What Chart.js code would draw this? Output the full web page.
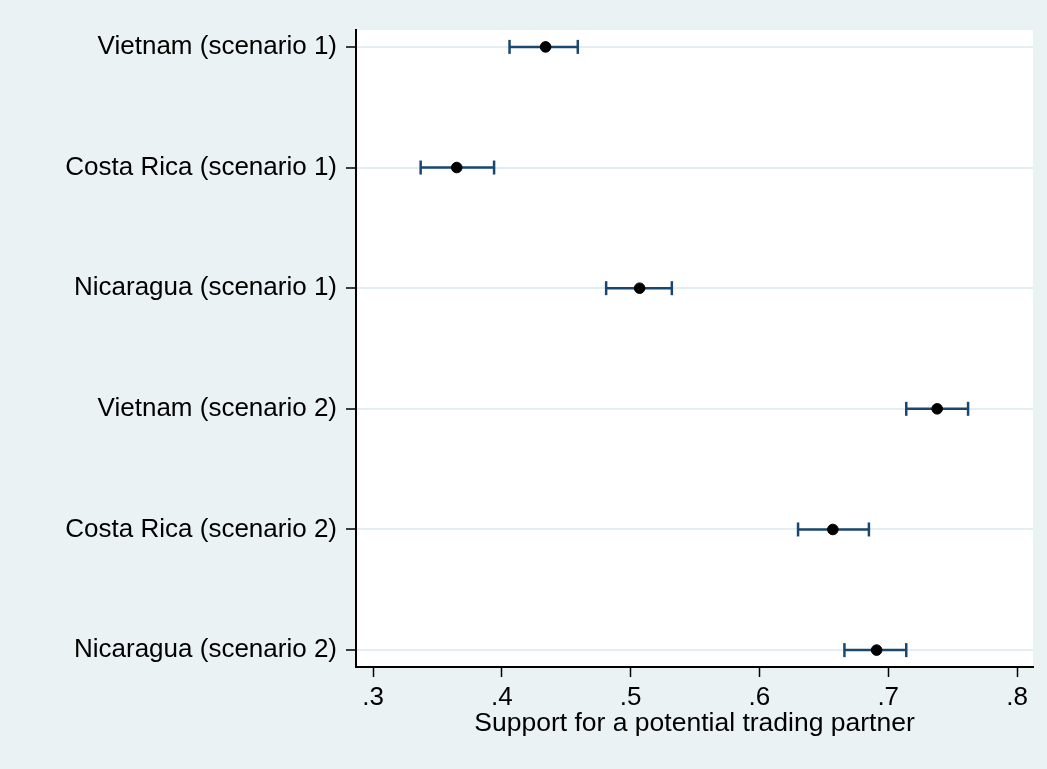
<!DOCTYPE html>
<html>
<head>
<meta charset="utf-8">
<script src="https://cdn.jsdelivr.net/npm/chart.js@4"></script>
<style>
  body { margin: 0; background: #eaf2f3; }
  #wrap { width: 1047px; height: 769px; }
</style>
</head>
<body>
<div id="wrap"><canvas id="myChart" width="1047" height="769"></canvas></div>
<script>
const partners = [
  "Vietnam (scenario 1)",
  "Costa Rica (scenario 1)",
  "Nicaragua (scenario 1)",
  "Vietnam (scenario 2)",
  "Costa Rica (scenario 2)",
  "Nicaragua (scenario 2)",
];
const support = [0.434, 0.365, 0.507, 0.738, 0.657, 0.691];
const ciLow = [0.406, 0.337, 0.481, 0.714, 0.63, 0.666];
const ciHigh = [0.459, 0.394, 0.532, 0.762, 0.685, 0.714];
const xTicks = [0.3, 0.4, 0.5, 0.6, 0.7, 0.8];

const navy = "#1a476f";
const fontFamily = "'Liberation Sans', Arial, Helvetica, sans-serif";

// punti stimati
const pointData = support.map((v, i) => ({ x: v, y: i }));

// una linea per ogni intervallo, con i "cappucci" come pointStyle line
const ciSets = partners.map((p, i) => ({
  label: p,
  data: [
    { x: ciLow[i], y: i },
    { x: ciHigh[i], y: i },
  ],
  showLine: true,
  borderColor: navy,
  borderWidth: 2.5,
  pointStyle: "line",
  rotation: 90,
  pointRadius: 7,
  pointBorderColor: navy,
  pointBorderWidth: 2.5,
  order: 2,
}));

const bgPlugin = {
  id: "bg",
  beforeDraw(chart) {
    const { ctx, chartArea } = chart;
    ctx.save();
    ctx.fillStyle = "#eaf2f3";
    ctx.fillRect(0, 0, chart.width, chart.height);
    ctx.fillStyle = "#ffffff";
    ctx.fillRect(
      chartArea.left,
      chartArea.top,
      chartArea.right - chartArea.left,
      chartArea.bottom - chartArea.top
    );
    ctx.restore();
  },
};

const ctx = document.getElementById("myChart").getContext("2d");

new Chart(ctx, {
  type: "scatter",
  data: {
    datasets: [
      {
        label: "Support",
        data: pointData,
        backgroundColor: "#000",
        borderColor: "#000",
        pointRadius: 5.3,
        order: 1,
      },
      ...ciSets,
    ],
  },
  options: {
    responsive: false,
    animation: false,
    layout: { padding: { top: 30, right: 14, left: 0, bottom: 0 } },
    plugins: {
      legend: { display: false },
      tooltip: { enabled: false },
    },
    scales: {
      x: {
        type: "linear",
        min: 0.2868,
        max: 0.8124,
        afterBuildTicks(scale) {
          scale.ticks = xTicks.map((v) => ({ value: v }));
        },
        afterFit(scale) {
          scale.height = 102;
        },
        grid: {
          drawOnChartArea: false,
          drawTicks: true,
          tickLength: 10,
          tickColor: "#000",
          tickWidth: 1.5,
        },
        border: { display: true, color: "#000", width: 2 },
        ticks: {
          color: "#000",
          padding: 5,
          font: { family: fontFamily, size: 26 },
          callback: (v) => Number(v).toFixed(1).replace(/^0/, ""),
        },
        title: {
          display: true,
          text: "Support for a potential trading partner",
          color: "#000",
          font: { family: fontFamily, size: 26.5 },
          padding: { top: 0, bottom: 29 },
        },
      },
      y: {
        type: "linear",
        reverse: true,
        min: -0.14,
        max: 5.14,
        afterBuildTicks(scale) {
          scale.ticks = partners.map((p, i) => ({ value: i }));
        },
        afterFit(scale) {
          scale.width = 356;
        },
        grid: {
          color: "#e4edf0",
          lineWidth: 2,
          drawTicks: true,
          tickLength: 10,
          tickColor: "#000",
          tickWidth: 1.5,
        },
        border: { display: true, color: "#000", width: 2 },
        ticks: {
          color: "#000",
          padding: 9,
          font: { family: fontFamily, size: 26 },
          callback: (v) => partners[v] ?? "",
        },
      },
    },
  },
  plugins: [bgPlugin],
});
</script>
</body>
</html>
